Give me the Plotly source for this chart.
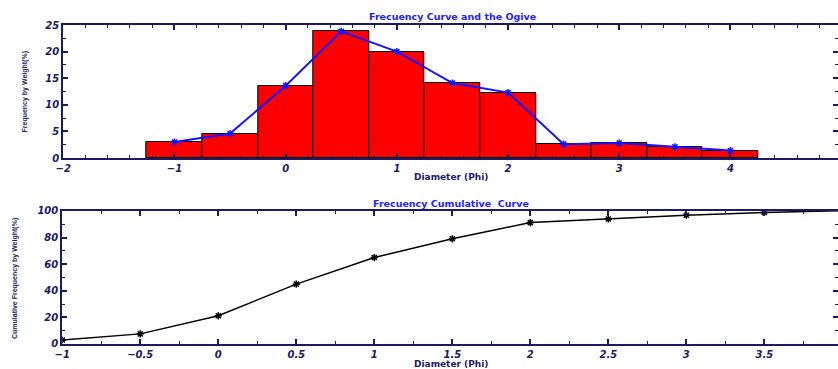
import plotly.graph_objects as go

# ---- data ----
phi_centers = [-1, -0.5, 0, 0.5, 1, 1.5, 2, 2.5, 3, 3.5, 4]
freq_weight = [3.0, 4.6, 13.6, 23.8, 20.0, 14.1, 12.3, 2.6, 2.8, 2.1, 1.4]
cum_weight = [3.0, 7.6, 21.2, 45.0, 65.0, 79.1, 91.3, 94.0, 96.8, 98.9, 100.3]
bin_width = 0.5

NAVY = "#1a1a66"
BLUE = "#2222ff"
tickfont = dict(family="DejaVu Sans", size=10, color=NAVY, weight="bold", style="italic")

fig = go.Figure()

fig.add_trace(go.Bar(
    x=phi_centers, y=freq_weight, width=bin_width,
    marker=dict(color="#ff0000", line=dict(color="#000000", width=1)),
    xaxis="x", yaxis="y", showlegend=False, hoverinfo="skip"))

fig.add_trace(go.Scatter(
    x=phi_centers, y=freq_weight, mode="lines+markers",
    line=dict(color="#1414ff", width=2),
    marker=dict(symbol="asterisk-open", size=6, color="#1414ff",
                line=dict(color="#1414ff", width=1.5)),
    xaxis="x", yaxis="y", showlegend=False))

fig.add_trace(go.Scatter(
    x=phi_centers, y=cum_weight, mode="lines+markers",
    line=dict(color="#000000", width=1.5),
    marker=dict(symbol="asterisk-open", size=6, color="#000000",
                line=dict(color="#000000", width=1.5)),
    xaxis="x2", yaxis="y2", showlegend=False))

axis_common = dict(
    showgrid=False, zeroline=False, showline=True, linecolor=NAVY, linewidth=2,
    mirror="ticks", ticks="inside", ticklen=5, tickwidth=1.5, tickcolor=NAVY,
    tickfont=tickfont, automargin=False,
)

fig.update_layout(
    width=838, height=369,
    margin=dict(l=0, r=0, t=0, b=0),
    paper_bgcolor="white", plot_bgcolor="white",
    bargap=0,
    xaxis=dict(domain=[0.0755, 1.0], range=[-2, 4.967], dtick=1, anchor="y",
               minor=dict(dtick=0.2, ticks="inside", ticklen=3, tickcolor=NAVY, tickwidth=1),
               **axis_common),
    yaxis=dict(domain=[0.5718, 0.9322], range=[0, 25], dtick=5, anchor="x",
               minor=dict(dtick=2.5, ticks="inside", ticklen=3, tickcolor=NAVY, tickwidth=1),
               **axis_common),
    xaxis2=dict(domain=[0.0743, 1.0], range=[-1, 3.972], dtick=0.5, anchor="y2",
                minor=dict(dtick=0.25, ticks="inside", ticklen=3, tickcolor=NAVY, tickwidth=1),
                **axis_common),
    yaxis2=dict(domain=[0.0678, 0.4282], range=[0, 100], dtick=20, anchor="x2",
                minor=dict(dtick=10, ticks="inside", ticklen=3, tickcolor=NAVY, tickwidth=1),
                **axis_common),
)

title_font = dict(family="DejaVu Sans", size=9.5, color=BLUE, weight="bold")
label_font = dict(family="DejaVu Sans", size=9, color=NAVY, weight="bold")
ytitle_font = dict(family="Liberation Sans Narrow, Liberation Sans", size=7, color=NAVY, weight="bold")

annotations = [
    dict(text="Frecuency Curve and the Ogive", x=452 / 838, y=1 - 16 / 369, font=title_font),
    dict(text="Frecuency Cumulative  Curve", x=451 / 838, y=1 - 203 / 369, font=title_font),
    dict(text="Diameter (Phi)", x=451 / 838, y=1 - 176.5 / 369, font=label_font),
    dict(text="Diameter (Phi)", x=451 / 838, y=1 - 363.5 / 369, font=label_font),
    dict(text="Frequency by Weight(%)", x=24.5 / 838, y=1 - 92 / 369, font=ytitle_font, textangle=-90),
    dict(text="Cumulative Frequency by Weight(%)", x=15 / 838, y=1 - 279 / 369, font=ytitle_font, textangle=-90),
]
for a in annotations:
    fig.add_annotation(xref="paper", yref="paper", showarrow=False,
                       xanchor="center", yanchor="middle", **a)

fig.write_html("out.html")
